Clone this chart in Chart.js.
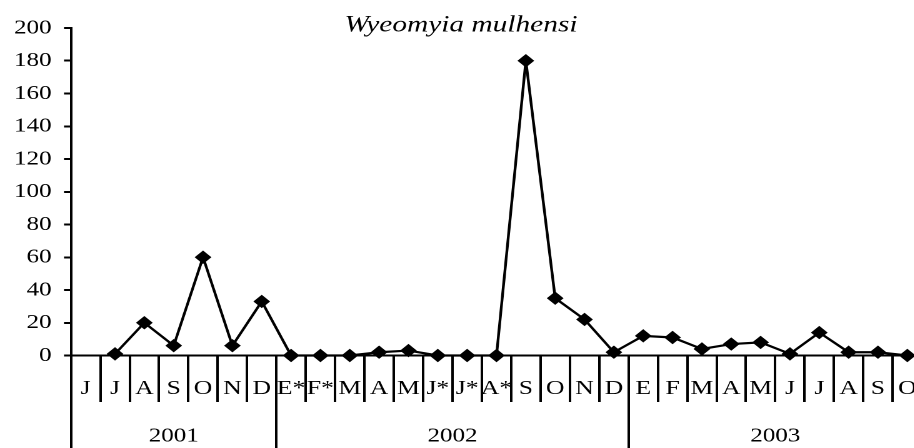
<!DOCTYPE html>
<html>
<head>
<meta charset="utf-8">
<title>Wyeomyia mulhensi</title>
<script src="https://cdn.jsdelivr.net/npm/chart.js@4/dist/chart.umd.min.js"></script>
<style>
  html, body { margin: 0; padding: 0; width: 914px; height: 448px; overflow: hidden; background: #fff; }
  /* the figure is drawn narrow and widened horizontally, like the printed plate */
  #wrap { width: 745px; height: 448px; transform: scaleX(1.25); transform-origin: 0 0; }
  canvas { display: block; width: 745px; height: 448px; }
</style>
</head>
<body>
<div id="wrap"><canvas id="c" width="745" height="448"></canvas></div>
<script>
// Monthly counts, June 2001 - October 2003 (* = months marked in the series)
const months2001 = ['J', 'J', 'A', 'S', 'O', 'N', 'D'];
const months2002 = ['E*', 'F*', 'M', 'A', 'M', 'J*', 'J*', 'A*', 'S', 'O', 'N', 'D'];
const months2003 = ['E', 'F', 'M', 'A', 'M', 'J', 'J', 'A', 'S', 'O'];
const years = ['2001', '2002', '2003'];

const counts2001 = [null, 1, 20, 6, 60, 6, 33];
const counts2002 = [0, 0, 0, 2, 3, 0, 0, 0, 180, 35, 22, 2];
const counts2003 = [12, 11, 4, 7, 8, 1, 14, 2, 2, 0];

const yMin = 0, yMax = 200, yStep = 20;

const labels = [...months2001, ...months2002, ...months2003];
const counts = [...counts2001, ...counts2002, ...counts2003];

// year blocks: edges between categories and the middle of each block
const spans = [months2001.length, months2002.length, months2003.length];
const edges = [-0.5];
spans.forEach(n => edges.push(edges[edges.length - 1] + n));
const centers = years.map((_, i) => (edges[i] + edges[i + 1]) / 2);
const yearTicks = [...edges, ...centers].sort((a, b) => a - b);

const SERIF = '"Liberation Serif", "Times New Roman", Times, serif';

new Chart(document.getElementById('c'), {
  type: 'line',
  data: {
    labels,
    datasets: [{
      data: counts,
      borderColor: '#000',
      backgroundColor: '#000',
      borderWidth: 2.2,
      pointStyle: 'rectRot',
      pointRadius: 6,
      pointHoverRadius: 6,
      pointBackgroundColor: '#000',
      pointBorderColor: '#000',
      pointBorderWidth: 1,
      tension: 0,
      clip: false
    }]
  },
  options: {
    responsive: false,
    animation: false,
    devicePixelRatio: 2,
    events: [],
    layout: { padding: { left: 0, right: 7.4, top: 0, bottom: 0 } },
    plugins: {
      legend: { display: false },
      tooltip: { enabled: false },
      title: {
        display: true,
        text: 'Wyeomyia mulhensi',
        color: '#000',
        font: { family: SERIF, size: 23.5, style: 'italic', weight: 'normal', lineHeight: 1.2 },
        padding: { top: 11, bottom: -11.2 }
      }
    },
    scales: {
      y: {
        min: yMin,
        max: yMax,
        ticks: { stepSize: yStep, color: '#000', font: { family: SERIF, size: 20 }, padding: 10 },
        grid: { drawOnChartArea: false, color: '#000', lineWidth: 2, tickLength: 5.6 },
        border: { color: '#000', width: 2 },
        afterFit(s) { s.width = 56.8; }
      },
      x: {
        type: 'category',
        offset: true,
        weight: 0,
        ticks: { color: '#000', font: { family: SERIF, size: 20.5 }, autoSkip: false, maxRotation: 0, padding: -25.5 },
        grid: { offset: true, drawOnChartArea: false, color: '#000', lineWidth: 2, tickLength: 46.5 },
        border: { color: '#000', width: 2 },
        afterFit(s) { s.height = 46.5; }
      },
      x2: {
        type: 'linear',
        axis: 'x',
        position: 'bottom',
        weight: 1,
        min: edges[0],
        max: edges[edges.length - 1],
        afterBuildTicks(s) { s.ticks = yearTicks.map(v => ({ value: v })); },
        ticks: {
          autoSkip: false,
          maxRotation: 0,
          color: '#000',
          font: { family: SERIF, size: 20 },
          padding: -24,
          callback(v) { const i = centers.indexOf(v); return i >= 0 ? years[i] : ''; }
        },
        grid: {
          drawOnChartArea: false,
          lineWidth: 2,
          tickLength: 46,
          color(c) { return c.tick && edges.includes(c.tick.value) ? '#000' : 'rgba(0,0,0,0)'; }
        },
        border: { display: false },
        afterFit(s) { s.height = 46; }
      }
    }
  }
});
</script>
</body>
</html>
